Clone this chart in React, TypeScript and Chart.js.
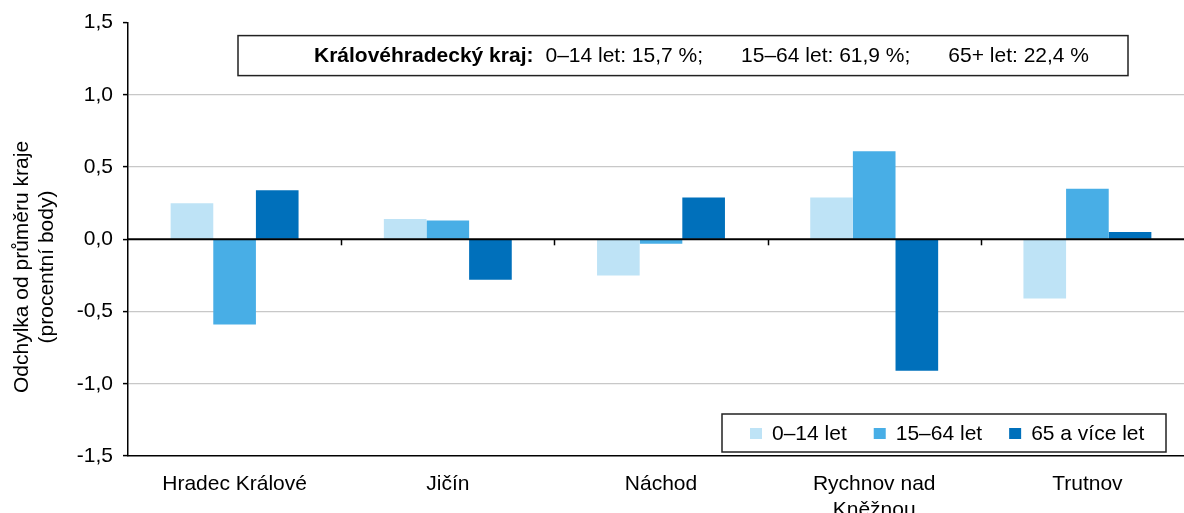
import React, { useEffect, useRef } from "react";
import { Chart, registerables } from "chart.js";

Chart.register(...registerables);

const districts: (string | string[])[] = [
  "Hradec Králové",
  "Jičín",
  "Náchod",
  ["Rychnov nad", "Kněžnou"],
  "Trutnov",
];
const seriesNames = ["0–14 let", "15–64 let", "65 a více let"];
const age0to14 = [0.25, 0.14, -0.25, 0.29, -0.41];
const age15to64 = [-0.59, 0.13, -0.03, 0.61, 0.35];
const age65plus = [0.34, -0.28, 0.29, -0.91, 0.05];
const seriesColors = ["#BEE3F6", "#48AEE6", "#0070BB"];

const regionName = "Královéhradecký kraj:";
const regionGroups = ["0–14 let", "15–64 let", "65+ let"];
const regionShares = [15.7, 61.9, 22.4];

const yTitle = ["Odchylka od průměru kraje", "(procentní body)"];
const yMin = -1.5;
const yMax = 1.5;
const yStep = 0.5;

const FONT = "'Liberation Sans', Arial, sans-serif";
const fmt = (v: number) => v.toFixed(1).replace(".", ",");

const overlayPlugin = {
  id: "overlay",
  afterDatasetsDraw(chart: any) {
    const { ctx, chartArea, scales } = chart;
    const y = scales.y;
    const y0 = y.getPixelForValue(0);
    ctx.save();
    // zero line
    ctx.strokeStyle = "#000";
    ctx.lineWidth = 2;
    ctx.beginPath();
    ctx.moveTo(chartArea.left, y0);
    ctx.lineTo(chartArea.right, y0);
    ctx.stroke();
    // category tick marks on zero line
    const n = districts.length;
    const w = (chartArea.right - chartArea.left) / n;
    ctx.lineWidth = 1.5;
    for (let i = 1; i < n; i++) {
      const px = Math.round(chartArea.left + i * w) + 0.5;
      ctx.beginPath();
      ctx.moveTo(px, y0);
      ctx.lineTo(px, y0 + 6);
      ctx.stroke();
    }
    ctx.restore();
  },
  afterDraw(chart: any) {
    const { ctx, chartArea } = chart;
    ctx.save();
    // y title
    ctx.fillStyle = "#000";
    ctx.font = `21px ${FONT}`;
    ctx.textAlign = "center";
    ctx.textBaseline = "middle";
    ctx.translate(0, 267);
    ctx.rotate(-Math.PI / 2);
    yTitle.forEach((t, i) => ctx.fillText(t, 0, 22 + i * 25));
    ctx.restore();

    // info box
    ctx.save();
    const bx = chartArea.left + 110;
    const by = chartArea.top + 13;
    ctx.strokeStyle = "#222";
    ctx.lineWidth = 1.5;
    ctx.strokeRect(bx, by, 890, 40);
    ctx.fillStyle = "#000";
    ctx.textBaseline = "middle";
    ctx.textAlign = "left";
    let tx = chartArea.left + 186;
    const ty = by + 21;
    ctx.font = `bold 21px ${FONT}`;
    ctx.fillText(regionName, tx, ty);
    tx += ctx.measureText(regionName).width + 12;
    ctx.font = `21px ${FONT}`;
    regionGroups.forEach((g, i) => {
      const s = `${g}: ${fmt(regionShares[i])} %` + (i < regionGroups.length - 1 ? ";" : "");
      ctx.fillText(s, tx, ty);
      tx += ctx.measureText(s).width + 38;
    });
    ctx.restore();

    // legend box
    ctx.save();
    const lx = 722;
    const ly = 414;
    ctx.strokeStyle = "#222";
    ctx.lineWidth = 1.5;
    ctx.strokeRect(lx, ly, 444, 38);
    ctx.font = `21px ${FONT}`;
    ctx.textBaseline = "middle";
    ctx.textAlign = "left";
    let ix = lx + 28;
    const iy = ly + 20;
    chart.data.datasets.forEach((ds: any) => {
      ctx.fillStyle = ds.backgroundColor;
      ctx.fillRect(ix, iy - 6, 12, 11);
      ctx.fillStyle = "#000";
      ctx.fillText(ds.label, ix + 22, iy);
      ix += 22 + ctx.measureText(ds.label).width + 27;
    });
    ctx.restore();
  },
};

export default function App() {
  const ref = useRef<HTMLCanvasElement | null>(null);
  useEffect(() => {
    if (!ref.current) return;
    const seriesData = [age0to14, age15to64, age65plus];
    const chart = new Chart(ref.current, {
      type: "bar",
      data: {
        labels: districts,
        datasets: seriesNames.map((name, i) => ({
          label: name,
          data: seriesData[i],
          backgroundColor: seriesColors[i],
          borderWidth: 0,
          categoryPercentage: 0.6,
          barPercentage: 1.0,
        })),
      },
      options: {
        responsive: false,
        animation: false,
        devicePixelRatio: 1,
        layout: { padding: { top: 20, right: 6, left: 0, bottom: 0 } },
        plugins: { legend: { display: false }, tooltip: { enabled: false } },
        scales: {
          x: {
            grid: { display: false },
            border: { display: true, color: "#000", width: 1.5 },
            ticks: {
              color: "#000",
              font: { family: FONT, size: 21, lineHeight: 1.2 },
              padding: 8,
              maxRotation: 0,
              autoSkip: false,
            },
            afterFit: (s: any) => {
              s.height = 57;
            },
          },
          y: {
            min: yMin,
            max: yMax,
            ticks: {
              stepSize: yStep,
              color: "#000",
              font: { family: FONT, size: 21 },
              padding: 10,
              callback: (v: any) => fmt(Number(v)),
            },
            grid: {
              color: (c: any) => {
                const v = c.tick ? c.tick.value : 0;
                if (Math.abs(v) < 1e-9 || Math.abs(Math.abs(v) - 1.5) < 1e-9) return "rgba(0,0,0,0)";
                return "#c8c8c8";
              },
              lineWidth: 1.2,
              tickLength: 5,
              tickColor: "#000",
              tickWidth: 1.5,
            },
            border: { display: true, color: "#000", width: 1.5 },
            afterFit: (s: any) => {
              s.width = 128;
            },
          },
        },
      },
      plugins: [overlayPlugin],
    });
    return () => chart.destroy();
  }, []);
  return (
    <div style={{ position: "fixed", left: 0, top: 0, width: 1200, height: 513, overflow: "hidden", background: "#fff" }}>
      <canvas ref={ref} width={1200} height={513} style={{ display: "block", width: 1200, height: 513 }} />
    </div>
  );
}
